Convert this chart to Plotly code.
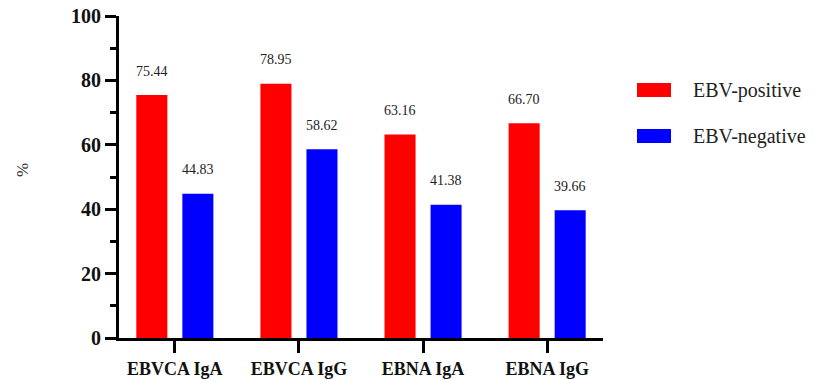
import plotly.graph_objects as go

categories = ["EBVCA IgA", "EBVCA IgG", "EBNA IgA", "EBNA IgG"]
positive = [75.44, 78.95, 63.16, 66.70]
negative = [44.83, 58.62, 41.38, 39.66]
series_names = ["EBV-positive", "EBV-negative"]
colors = ["#ff0000", "#0000ff"]

FONT = "Liberation Serif"

fig = go.Figure()
for name, vals, col in zip(series_names, [positive, negative], colors):
    fig.add_trace(go.Bar(x=categories, y=vals, name=name, marker_color=col,
                         marker_line_width=0, showlegend=False))

annotations = []
for vals, shift in [(positive, -23), (negative, 23)]:
    for c, v in zip(categories, vals):
        annotations.append(dict(x=c, y=v, text=f"{v:.2f}", showarrow=False,
                                xshift=shift, yshift=24, yanchor="middle", xanchor="center",
                                font=dict(family=FONT, size=14, color="#222")))

# paper coords: plot area spans x 119..603, y 16..338
def px(xp):
    return (xp - 119) / 484

def py(yp):
    return (338 - yp) / 322

# y-axis title
annotations.append(dict(xref="paper", yref="paper", x=px(22), y=py(170), text="%",
                        textangle=-90, showarrow=False, xanchor="center", yanchor="middle",
                        font=dict(family=FONT, size=17, color="#333")))

# legend
shapes = []
for i, (name, col) in enumerate(zip(series_names, colors)):
    yc = 90 + i * 46
    shapes.append(dict(type="rect", xref="paper", yref="paper",
                       x0=px(637), x1=px(671), y0=py(yc + 7), y1=py(yc - 7),
                       fillcolor=col, line_width=0))
    annotations.append(dict(xref="paper", yref="paper", x=px(691), y=py(yc),
                            xanchor="left", yanchor="middle", text=name, showarrow=False,
                            font=dict(family=FONT, size=20, color="#222")))

fig.update_layout(
    width=813, height=380,
    margin=dict(l=119, r=210, t=16, b=42, autoexpand=False),
    plot_bgcolor="white", paper_bgcolor="white",
    barmode="group", bargap=0.258, bargroupgap=0.326,
    annotations=annotations, shapes=shapes,
    font=dict(family=FONT),
)
fig.update_xaxes(range=[-0.45, 3.45], showline=True, linecolor="black", linewidth=3,
                 ticks="outside", ticklen=12, tickwidth=3, tickcolor="black",
                 tickfont=dict(family=FONT, size=18, color="#111", weight="bold"),
                 showgrid=False, zeroline=False, automargin=False)
fig.update_yaxes(range=[0, 100], tickvals=[0, 20, 40, 60, 80, 100],
                 showline=True, linecolor="black", linewidth=3,
                 ticks="outside", ticklen=11, tickwidth=3, tickcolor="black",
                 tickfont=dict(family=FONT, size=20, color="#111", weight="bold"),
                 minor=dict(tickvals=[10, 30, 50, 70, 90], ticks="outside", ticklen=6,
                            tickwidth=3, tickcolor="black", showgrid=False),
                 showgrid=False, zeroline=False, automargin=False)

fig.write_html(
    "out.html",
    config={"displayModeBar": False},
    post_script="document.body.style.margin='0';document.body.style.overflow='hidden';"
                "document.documentElement.style.overflow='hidden';",
)
